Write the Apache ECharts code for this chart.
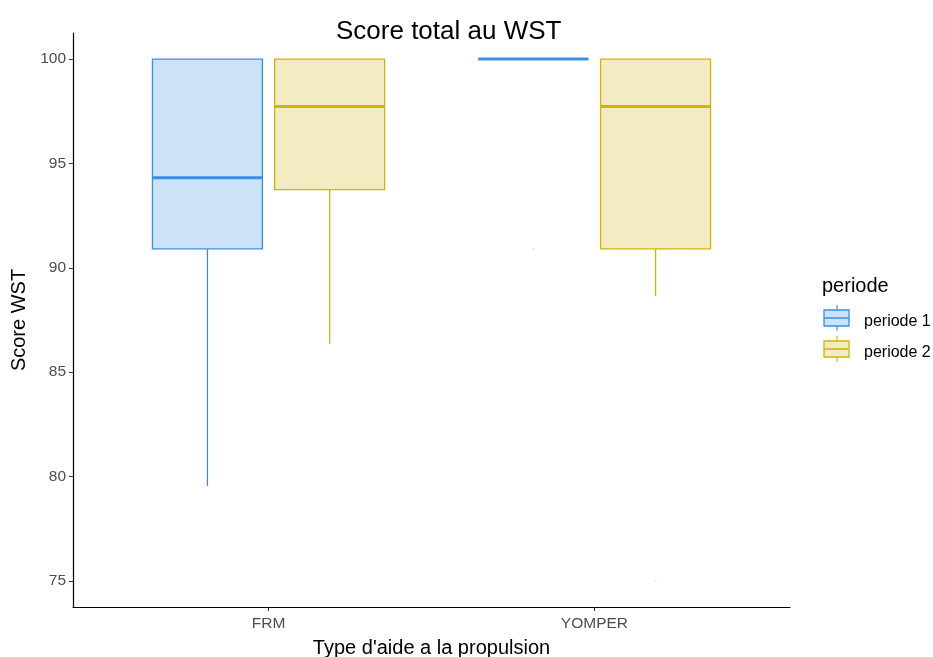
<!DOCTYPE html>
<html>
<head>
<meta charset="utf-8">
<script src="https://cdn.jsdelivr.net/npm/echarts@6/dist/echarts.min.js"></script>
<style>
html,body{margin:0;padding:0;background:#fff;}
#container{width:933px;height:657px;}
</style>
</head>
<body>
<div id="container"></div>
<script>
// donnees
var categories = ['FRM', 'YOMPER'];
var periodes = ['periode 1', 'periode 2'];
// [min, q1, mediane, q3, max] par categorie
var periode1Box = [
	[79.55, 90.91, 94.32, 100, 100],
	[100, 100, 100, 100, 100]
];
var periode2Box = [
	[86.36, 93.75, 97.73, 100, 100],
	[88.64, 90.91, 97.73, 100, 100]
];
// valeurs aberrantes [categorie, valeur]
var periode1Outliers = [['YOMPER', 90.91]];
var periode2Outliers = [['YOMPER', 75]];
var yTicks = [75, 80, 85, 90, 95, 100];

var colors = ['#3a8ee6', '#d4b400'];
var fills = ['#cbe2f8', '#f3ecc2'];
var offsets = [-0.1875, 0.1875];
var boxWidth = 0.3375;
var fontFam = 'Liberation Sans';

var dom = document.getElementById('container');
var myChart = echarts.init(dom);

function boxData(arr){
	return arr.map(function(d, i){ return [i + 1].concat(d); });
}

function makeRender(k){
	return function(params, api){
		var x = api.value(0) + offsets[k];
		var pMin = api.coord([x, api.value(1)]);
		var pQ1 = api.coord([x, api.value(2)]);
		var pMed = api.coord([x, api.value(3)]);
		var pQ3 = api.coord([x, api.value(4)]);
		var pMax = api.coord([x, api.value(5)]);
		var halfW = api.size([boxWidth, 0])[0] / 2;
		var cx = pMed[0];
		return {
			type: 'group',
			children: [
				{type: 'line', shape: {x1: cx, y1: pQ1[1], x2: cx, y2: pMin[1]}, style: {stroke: colors[k], lineWidth: 1.3}},
				{type: 'line', shape: {x1: cx, y1: pQ3[1], x2: cx, y2: pMax[1]}, style: {stroke: colors[k], lineWidth: 1.3}},
				{type: 'rect', shape: {x: cx - halfW, y: pQ3[1], width: halfW * 2, height: pQ1[1] - pQ3[1]}, style: {fill: fills[k], stroke: colors[k], lineWidth: 1.3}},
				{type: 'line', shape: {x1: cx - halfW, y1: pMed[1], x2: cx + halfW, y2: pMed[1]}, style: {stroke: colors[k], lineWidth: 3}}
			]
		};
	};
}

function outlierData(arr, k){
	return arr.map(function(d){ return [categories.indexOf(d[0]) + 1 + offsets[k], d[1]]; });
}

// legende dessinee a la main
var legendGraphics = [
	{type: 'text', left: 822, top: 276, style: {text: 'periode', fontSize: 20, fill: '#000', fontFamily: fontFam}}
];
periodes.forEach(function(p, k){
	var y0 = 305 + k * 31;
	legendGraphics.push(
		{type: 'line', shape: {x1: 837, y1: y0, x2: 837, y2: y0 + 26}, style: {stroke: colors[k], lineWidth: 1.1}},
		{type: 'rect', shape: {x: 824, y: y0 + 5, width: 25, height: 16}, style: {fill: fills[k], stroke: colors[k], lineWidth: 1.3}},
		{type: 'line', shape: {x1: 824, y1: y0 + 13, x2: 849, y2: y0 + 13}, style: {stroke: colors[k], lineWidth: 1.5}},
		{type: 'text', left: 864, top: y0 + 9, style: {text: p, fontSize: 16, fill: '#000', fontFamily: fontFam}}
	);
});

option = {
	backgroundColor: '#fff',
	textStyle: {fontFamily: fontFam},
	title: {
		text: 'Score total au WST',
		left: 331,
		top: 14,
		textStyle: {fontSize: 26, fontWeight: 'normal', color: '#000', fontFamily: fontFam}
	},
	grid: {left: 73, right: 143, top: 33, bottom: 50, outerBoundsMode: 'none', containLabel: false},
	xAxis: {
		type: 'value',
		min: 0.4,
		max: 2.6,
		name: "Type d'aide a la propulsion",
		nameLocation: 'middle',
		nameGap: 31,
		nameTextStyle: {fontSize: 20, color: '#000'},
		splitLine: {show: false},
		axisLine: {show: true, lineStyle: {color: '#000', width: 1.2}},
		axisTick: {show: true, length: 4, customValues: [1, 2], lineStyle: {color: '#333'}},
		axisLabel: {
			customValues: [1, 2],
			fontSize: 15.5,
			color: '#4d4d4d',
			margin: 9,
			formatter: function(v){ return categories[Math.round(v) - 1] || ''; }
		}
	},
	yAxis: {
		type: 'value',
		min: 73.75,
		max: 101.25,
		name: 'Score WST',
		nameLocation: 'middle',
		nameGap: 40,
		nameRotate: 90,
		nameTextStyle: {fontSize: 20, color: '#000'},
		splitLine: {show: false},
		axisLine: {show: true, lineStyle: {color: '#000', width: 1.2}},
		axisTick: {show: true, length: 4, customValues: yTicks, lineStyle: {color: '#333'}},
		axisLabel: {customValues: yTicks, fontSize: 15.5, color: '#4d4d4d', margin: 7}
	},
	graphic: legendGraphics,
	series: [
		{name: periodes[0], type: 'custom', renderItem: makeRender(0), encode: {x: 0, y: [1, 2, 3, 4, 5]}, data: boxData(periode1Box), z: 2},
		{name: periodes[1], type: 'custom', renderItem: makeRender(1), encode: {x: 0, y: [1, 2, 3, 4, 5]}, data: boxData(periode2Box), z: 2},
		{type: 'scatter', symbolSize: 2, itemStyle: {color: colors[0], opacity: 0.25}, data: outlierData(periode1Outliers, 0), silent: true},
		{type: 'scatter', symbolSize: 2, itemStyle: {color: colors[1], opacity: 0.25}, data: outlierData(periode2Outliers, 1), silent: true}
	]
};
if (option && typeof option === 'object') {
	myChart.setOption(option, true);
}
</script>
</body>
</html>
